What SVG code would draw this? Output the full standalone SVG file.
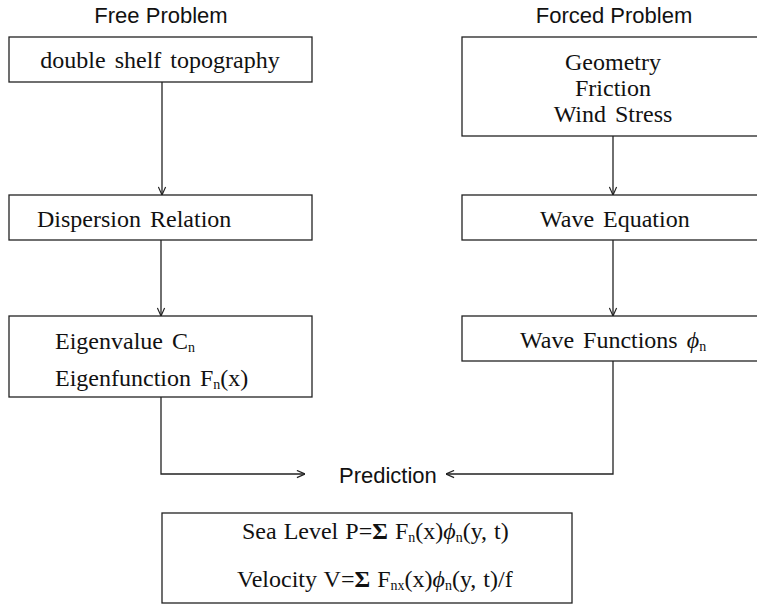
<svg xmlns="http://www.w3.org/2000/svg" width="757" height="605" viewBox="0 0 757 605">
<style>
.box{fill:#fff;stroke:#222;stroke-width:1.3}
.conn{fill:none;stroke:#222;stroke-width:1.3}
.sans{font-family:"Liberation Sans",Arial,sans-serif;font-size:22px;fill:#111}
.serif{font-family:"Liberation Serif","Times New Roman",serif;font-size:24px;fill:#111;word-spacing:3px}
.sub{font-size:14px}
.phi{font-style:italic}
</style>
<defs>
<marker id="arr" viewBox="0 0 10 10" refX="10" refY="5" markerWidth="9" markerHeight="9" markerUnits="userSpaceOnUse" orient="auto">
<path d="M1,1 L10,5 L1,9" fill="none" stroke="#222" stroke-width="1.3"/>
</marker>
</defs>
<rect width="757" height="605" fill="#fff"/>
<g id="connectors">
<line class="conn" x1="162" y1="82" x2="162" y2="195" marker-end="url(#arr)"/>
<line class="conn" x1="161" y1="240" x2="161" y2="316" marker-end="url(#arr)"/>
<line class="conn" x1="613" y1="136" x2="613" y2="195" marker-end="url(#arr)"/>
<line class="conn" x1="613" y1="240" x2="613" y2="316" marker-end="url(#arr)"/>
<polyline class="conn" points="161,397 161,474 305,474" marker-end="url(#arr)"/>
<polyline class="conn" points="613,361 613,474 446,474" marker-end="url(#arr)"/>
</g>
<g id="free-title"><text class="sans" x="161" y="23" text-anchor="middle">Free Problem</text></g>
<g id="forced-title"><text class="sans" x="614" y="23" text-anchor="middle">Forced Problem</text></g>
<g id="topography">
<rect class="box" x="9" y="37" width="303" height="45"/>
<text class="serif" x="160" y="68" text-anchor="middle">double shelf topography</text>
</g>
<g id="inputs">
<rect class="box" x="462" y="37" width="300" height="99"/>
<text class="serif" x="613" y="70" text-anchor="middle">Geometry</text>
<text class="serif" x="613" y="96" text-anchor="middle">Friction</text>
<text class="serif" x="613" y="122" text-anchor="middle">Wind Stress</text>
</g>
<g id="dispersion">
<rect class="box" x="9" y="195" width="303" height="45"/>
<text class="serif" x="37" y="227">Dispersion Relation</text>
</g>
<g id="wave-equation">
<rect class="box" x="462" y="195" width="300" height="45"/>
<text class="serif" x="540" y="227">Wave Equation</text>
</g>
<g id="eigen">
<rect class="box" x="9" y="316" width="303" height="81"/>
<text class="serif" x="55" y="349">Eigenvalue C<tspan class="sub" dy="3">n</tspan></text>
<text class="serif" x="55" y="386">Eigenfunction F<tspan class="sub" dy="3">n</tspan><tspan dy="-3">(x)</tspan></text>
</g>
<g id="wave-functions">
<rect class="box" x="462" y="316" width="300" height="45"/>
<text class="serif" x="520" y="348">Wave Functions <tspan class="phi">ϕ</tspan><tspan class="sub" dy="3">n</tspan></text>
</g>
<g id="prediction"><text class="sans" x="339" y="483">Prediction</text></g>
<g id="result">
<rect class="box" x="162" y="513" width="410" height="90"/>
<text class="serif" x="242" y="539" style="word-spacing:1px">Sea Level P=<tspan font-weight="bold">Σ</tspan> F<tspan class="sub" dy="3">n</tspan><tspan dy="-3">(x)</tspan><tspan class="phi">ϕ</tspan><tspan class="sub" dy="3">n</tspan><tspan dy="-3">(y, t)</tspan></text>
<text class="serif" x="237" y="587" style="word-spacing:1px">Velocity V=<tspan font-weight="bold">Σ</tspan> F<tspan class="sub" dy="3">nx</tspan><tspan dy="-3">(x)</tspan><tspan class="phi">ϕ</tspan><tspan class="sub" dy="3">n</tspan><tspan dy="-3">(y, t)/f</tspan></text>
</g>
</svg>
